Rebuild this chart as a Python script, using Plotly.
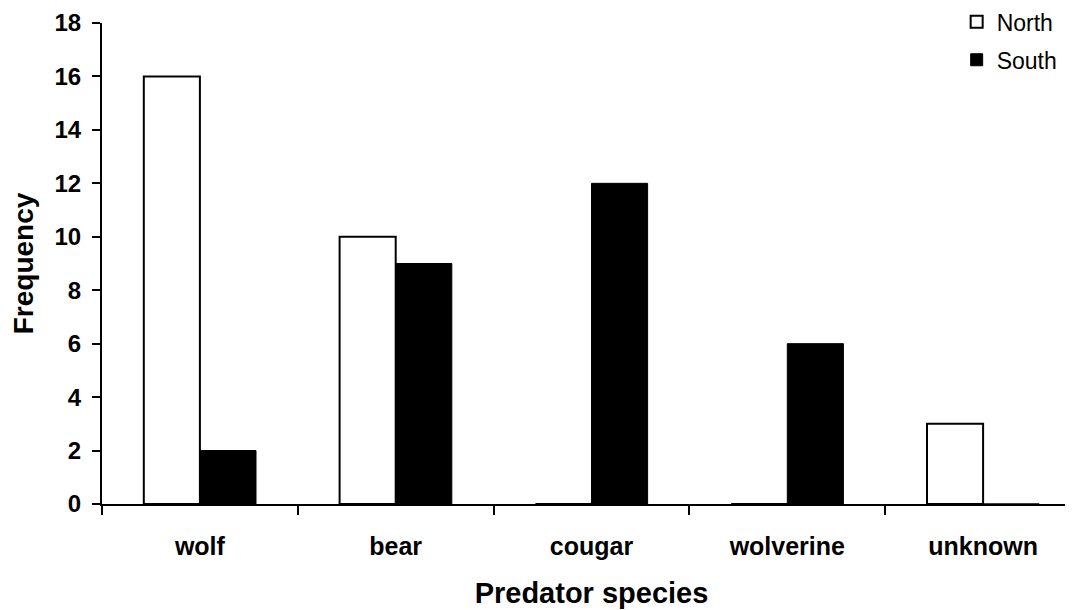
import plotly.graph_objects as go

# data
species = ["wolf", "bear", "cougar", "wolverine", "unknown"]
north = [16, 10, 0, 0, 3]
south = [2, 9, 12, 6, 0]
y_ticks = [0, 2, 4, 6, 8, 10, 12, 14, 16, 18]

fnt = "Liberation Sans, Arial, Helvetica, sans-serif"

fig = go.Figure()
fig.add_trace(go.Bar(x=species, y=north, name="North", legendgroup="n",
                     marker=dict(color="white", line=dict(color="black", width=2))))
fig.add_trace(go.Bar(x=species, y=south, name="South", legendgroup="s",
                     marker=dict(color="black", line=dict(color="black", width=1))))

# page body adds 8px offset, margins compensate
fig.update_layout(
    width=1073, height=610,
    margin=dict(l=94, r=0, t=15, b=114, autoexpand=False),
    paper_bgcolor="white", plot_bgcolor="white",
    barmode="group", bargap=0.427, bargroupgap=0,
    font=dict(family=fnt, color="black"),
    legend=dict(x=0.873, y=1.047, xanchor="left", yanchor="top",
                font=dict(size=23, family=fnt), tracegroupgap=5,
                traceorder="grouped", bgcolor="rgba(0,0,0,0)"),
)

fig.update_xaxes(
    range=[-0.5, 4.5], showline=True, linecolor="black", linewidth=2,
    ticks="outside", tickson="boundaries", ticklen=9, tickwidth=2, tickcolor="black",
    tickfont=dict(size=25, family=fnt, weight="bold"), ticklabelstandoff=19,
    showgrid=False, zeroline=False, automargin=False,
    title=dict(text="Predator species", font=dict(size=29, family=fnt, weight="bold"), standoff=24),
)
fig.update_yaxes(
    range=[0, 18], tickvals=y_ticks, showline=True, linecolor="black", linewidth=2,
    ticks="outside", ticklen=8, tickwidth=2, tickcolor="black",
    tickfont=dict(size=24, family=fnt, weight="bold"), ticklabelstandoff=6,
    showgrid=False, zeroline=False, automargin=False,
    title=dict(text="Frequency", font=dict(size=28, family=fnt, weight="bold"), standoff=16),
)

fig.write_html("out.html")
